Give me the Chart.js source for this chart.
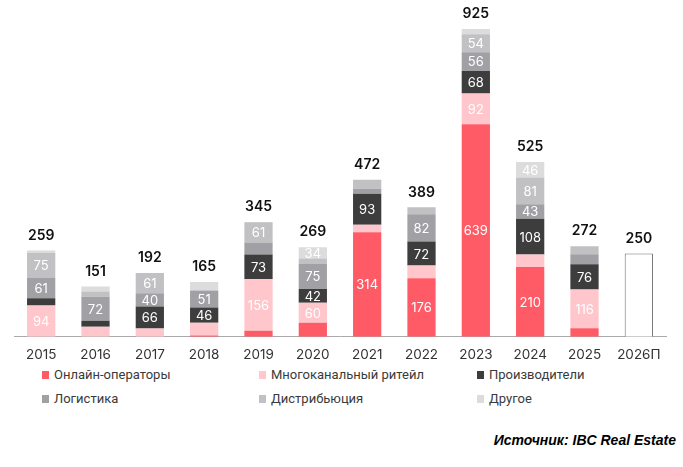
<!DOCTYPE html>
<html>
<head>
<meta charset="utf-8">
<script src="https://cdn.jsdelivr.net/npm/chart.js@4"></script>
<style>
    body { margin: 0; width: 683px; height: 467px; background: #fff; position: relative; overflow: hidden; }
    #wrap { position: absolute; left: 0; top: 0; width: 683px; height: 365px; }
    .legend-item { position: absolute; font-family: Roboto, sans-serif; font-size: 13px; color: #3a3a3a; line-height: 16px; white-space: nowrap; }
    .legend-item span { position: absolute; left: -12px; top: 4px; width: 7px; height: 8px; }
    #source { position: absolute; right: 7px; top: 432px; font-family: "Liberation Sans", Arial, sans-serif; font-weight: bold; font-style: italic; font-size: 14px; color: #000; }
</style>
</head>
<body>
<div id="wrap"><canvas id="chart-graph"></canvas></div>
<div id="legend"></div>
<div id="source">Источник: IBC Real Estate</div>
<script>
const years = ['2015', '2016', '2017', '2018', '2019', '2020', '2021', '2022', '2023', '2024', '2025', '2026П']

const online       = [0, 0, 0, 4, 18, 42, 314, 176, 639, 210, 26, null]
const multichannel = [94, 30, 25, 38, 156, 60, 23, 38, 92, 37, 116, null]
const producers    = [22, 18, 66, 46, 73, 42, 93, 72, 68, 108, 76, null]
const logistics    = [61, 72, 40, 51, 36, 75, 15, 82, 56, 43, 30, null]
const distribution = [75, 16, 61, 0, 61, 16, 27, 21, 54, 81, 24, null]
const other        = [7, 15, 0, 26, 1, 34, 0, 0, 16, 46, 0, null]
const forecast     = [null, null, null, null, null, null, null, null, null, null, null, 250]

// which segments carry a number inside
const showOnline = [0, 0, 0, 0, 0, 0, 1, 1, 1, 1, 0, 0]
const showMulti  = [1, 0, 0, 0, 1, 1, 0, 0, 1, 0, 1, 0]
const showProd   = [0, 0, 1, 1, 1, 1, 1, 1, 1, 1, 1, 0]
const showLog    = [1, 1, 1, 1, 0, 1, 0, 1, 1, 1, 0, 0]
const showDist   = [1, 0, 1, 0, 1, 0, 0, 0, 1, 1, 0, 0]
const showOther  = [0, 0, 0, 0, 0, 1, 0, 0, 0, 1, 0, 0]

const seriesNames  = ['Онлайн-операторы', 'Многоканальный ритейл', 'Производители', 'Логистика', 'Дистрибьюция', 'Другое']
const seriesColors = ['#ff5b66', '#ffc6cb', '#3d3d3d', '#a1a1a5', '#c1c1c3', '#dcdcdc']
const seriesValues = [online, multichannel, producers, logistics, distribution, other]
const seriesShow   = [showOnline, showMulti, showProd, showLog, showDist, showOther]

const datasets = seriesValues.map((values, i) => ({
    label: seriesNames[i],
    data: values,
    backgroundColor: seriesColors[i],
    showLabels: seriesShow[i],
    borderWidth: 0
}))
datasets.push({
    label: 'Прогноз',
    data: forecast,
    backgroundColor: '#ffffff',
    borderColor: '#6e6e6e',
    borderWidth: 1,
    showLabels: forecast.map(() => 0)
})

const totals = years.map((y, k) => datasets.reduce((s, d) => s + (d.data[k] || 0), 0))

const labelsPlugin = {
    id: 'labels',
    afterDatasetsDraw(chart) {
        const ctx = chart.ctx
        ctx.save()
        ctx.textAlign = 'center'
        ctx.textBaseline = 'middle'
        ctx.font = '13px Inter, sans-serif'
        ctx.fillStyle = '#ffffff'
        chart.data.datasets.forEach((d, i) => {
            chart.getDatasetMeta(i).data.forEach((bar, k) => {
                if (!d.showLabels[k] || !d.data[k]) return
                ctx.fillText(d.data[k], bar.x, (bar.y + bar.base) / 2 + 1)
            })
        })
        ctx.font = '600 14px Inter, sans-serif'
        ctx.fillStyle = '#111111'
        const yScale = chart.scales.y
        const xScale = chart.scales.x
        totals.forEach((t, k) => {
            ctx.fillText(t, xScale.getPixelForValue(k), yScale.getPixelForValue(t) - 15)
        })
        ctx.restore()
    }
}

function buildLegend() {
    const legend = document.getElementById('legend')
    const cols = [54, 271, 489]
    const rows = [367, 391]
    seriesNames.forEach((name, i) => {
        const div = document.createElement('div')
        div.classList.add('legend-item')
        div.style.left = cols[i % 3] + 'px'
        div.style.top = rows[Math.floor(i / 3)] + 'px'
        const box = document.createElement('span')
        box.style.background = seriesColors[i]
        div.appendChild(box)
        div.appendChild(document.createTextNode(name))
        legend.appendChild(div)
    })
}

function createChart(canvas) {
    const config = {
        type: 'bar',
        data: { labels: years, datasets: datasets },
        options: {
            responsive: true,
            maintainAspectRatio: false,
            animation: false,
            layout: { padding: { left: 14, right: 17, top: 4, bottom: 0 } },
            plugins: { legend: { display: false }, tooltip: { enabled: false } },
            datasets: { bar: { barPercentage: 0.52, categoryPercentage: 1 } },
            scales: {
                x: {
                    stacked: true,
                    grid: { display: false },
                    border: { color: '#aaaaaa', width: 1 },
                    ticks: { color: '#333333', font: { family: 'Inter, sans-serif', size: 13.5 }, padding: 2 }
                },
                y: { stacked: true, display: false, min: 0, max: 1000 }
            }
        },
        plugins: [labelsPlugin]
    }
    return new Chart(canvas, config)
}

buildLegend()
createChart(document.getElementById('chart-graph'))
</script>
</body>
</html>
